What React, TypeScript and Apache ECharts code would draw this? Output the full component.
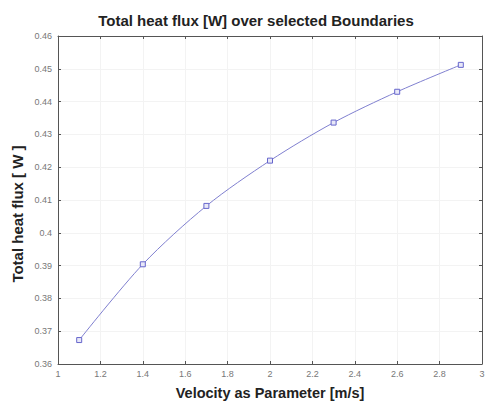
import React, { useEffect, useRef } from "react";
import * as echarts from "echarts";

const velocities = [1.1, 1.4, 1.7, 2.0, 2.3, 2.6, 2.9];
const heatFlux = [0.3673, 0.3904, 0.4082, 0.422, 0.4336, 0.443, 0.4512];
const xTicks = [1, 1.2, 1.4, 1.6, 1.8, 2, 2.2, 2.4, 2.6, 2.8, 3];
const yTicks = [0.36, 0.37, 0.38, 0.39, 0.4, 0.41, 0.42, 0.43, 0.44, 0.45, 0.46];

const FONT = "Liberation Sans, Arial, sans-serif";

export default function App() {
  const ref = useRef<HTMLDivElement>(null);
  useEffect(() => {
    if (!ref.current) return;
    const chart = echarts.init(ref.current, undefined, { renderer: "svg" });
    const fmt = (v: number) => String(Math.round(v * 1000) / 1000);
    const axisCommon = {
      axisLine: { show: true, lineStyle: { color: "#555", width: 1 } },
      axisTick: { show: true, inside: true, length: 3, lineStyle: { color: "#555" } },
      splitLine: { show: true, lineStyle: { color: "#f3f3f3", width: 1 } },
    };
    chart.setOption({
      animation: false,
      backgroundColor: "#ffffff",
      title: {
        text: "Total heat flux [W] over selected Boundaries",
        left: 251,
        textAlign: "center",
        top: 8,
        textStyle: { fontFamily: FONT, fontSize: 15, fontWeight: "bold", color: "#222" },
      },
      graphic: [
        {
          type: "text",
          x: 17,
          y: 214,
          rotation: Math.PI / 2,
          style: {
            text: "Total heat flux [ W ]",
            fontFamily: FONT,
            fontSize: 15,
            fontWeight: "bold",
            fill: "#222",
            align: "center",
            verticalAlign: "middle",
          },
        },
      ],
      grid: { left: 58, right: 4, top: 36, bottom: 39, show: false, containLabel: false, outerBoundsMode: "none" },
      xAxis: [
        {
          type: "value",
          min: xTicks[0],
          max: xTicks[xTicks.length - 1],
          interval: 0.2,
          name: "Velocity as Parameter [m/s]",
          nameLocation: "middle",
          nameGap: 21,
          nameTextStyle: { fontFamily: FONT, fontSize: 14.5, fontWeight: "bold", color: "#222" },
          axisLabel: { fontFamily: FONT, fontSize: 9, color: "#777", margin: 5, formatter: fmt },
          ...axisCommon,
        },
        {
          type: "value",
          position: "top",
          min: xTicks[0],
          max: xTicks[xTicks.length - 1],
          interval: 0.2,
          axisLabel: { show: false },
          axisLine: { show: true, lineStyle: { color: "#555" } },
          axisTick: { show: true, inside: true, length: 3, lineStyle: { color: "#555" } },
          splitLine: { show: false },
        },
      ],
      yAxis: [
        {
          type: "value",
          min: yTicks[0],
          max: yTicks[yTicks.length - 1],
          interval: 0.01,
          axisLabel: { fontFamily: FONT, fontSize: 9, color: "#777", margin: 6, formatter: fmt },
          ...axisCommon,
        },
        {
          type: "value",
          position: "right",
          min: yTicks[0],
          max: yTicks[yTicks.length - 1],
          interval: 0.01,
          axisLabel: { show: false },
          axisLine: { show: true, lineStyle: { color: "#555" } },
          axisTick: { show: true, inside: true, length: 3, lineStyle: { color: "#555" } },
          splitLine: { show: false },
        },
      ],
      series: [
        {
          type: "line",
          data: velocities.map((v, i) => [v, heatFlux[i]]),
          smooth: 0.3,
          symbol: "rect",
          symbolSize: 5,
          lineStyle: { color: "#8080d0", width: 1 },
          itemStyle: { color: "#e8e8f8", borderColor: "#6666cc", borderWidth: 1 },
        },
      ],
    });
    return () => chart.dispose();
  }, []);
  return <div ref={ref} style={{ width: 486, height: 403, position: "absolute", left: 0, top: 0 }} />;
}
